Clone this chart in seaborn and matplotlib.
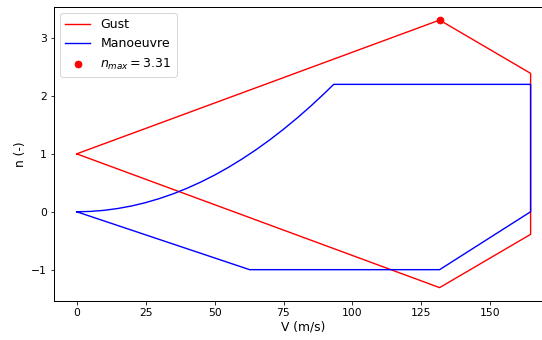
import numpy as np
import pandas as pd
import matplotlib
matplotlib.use("Agg")
import matplotlib.pyplot as plt
import seaborn as sns

# velocidades clave (m/s)
V_A = 93.2
V_C = 131.6
V_D = 164.6

# envolvente de rafaga
gust_V = [0.0, V_C, V_D, V_D, V_C, 0.0]
gust_n = [1.0, 3.31, 2.39, -0.39, -1.31, 1.0]

# envolvente de maniobra (parte positiva)
man_V = [0.0, 5, 10, 15, 20, 25, 30, 35, 40, 45, 50, 55, 60, 65, 70, 75, 80, 85, 90, V_A,
         V_D, V_D, V_C, 62.7, 0.0]
man_n = [0.0, 0.006, 0.025, 0.057, 0.101, 0.158, 0.228, 0.310, 0.405, 0.513, 0.633, 0.766,
         0.912, 1.070, 1.241, 1.425, 1.621, 1.830, 2.052, 2.2,
         2.2, 0.0, -1.0, -1.0, 0.0]

n_max = 3.31

plt.rcParams['font.family'] = ['DejaVu Sans']
plt.rcParams['xtick.labelsize'] = 10.8
plt.rcParams['ytick.labelsize'] = 10.8
plt.rcParams['axes.labelsize'] = 12.2
plt.rcParams['legend.fontsize'] = 12.5
plt.rcParams['axes.linewidth'] = 1.0

DPI = 72
fig = plt.figure(figsize=(542 / DPI, 340 / DPI), dpi=DPI)
ax = fig.add_axes([54 / 542, 39 / 340, 499.3 / 542, 294.3 / 340])

df_gust = pd.DataFrame({"V": gust_V, "n": gust_n})
df_man = pd.DataFrame({"V": man_V, "n": man_n})

sns.lineplot(data=df_gust, x="V", y="n", sort=False, estimator=None, color="red",
             linewidth=1.4, label="Gust", ax=ax)
sns.lineplot(data=df_man, x="V", y="n", sort=False, estimator=None, color="blue",
             linewidth=1.4, label="Manoeuvre", ax=ax)
ax.scatter([V_C], [n_max], color="red", s=45, zorder=3, label=r"$n_{max} = 3.31$")

ax.set_xlabel("V (m/s)", labelpad=2)
ax.set_ylabel("n (-)")
ax.set_xticks([0, 25, 50, 75, 100, 125, 150])
ax.set_yticks([-1, 0, 1, 2, 3])
ax.legend(loc="upper left")

fig.savefig("out.png", dpi=DPI)
